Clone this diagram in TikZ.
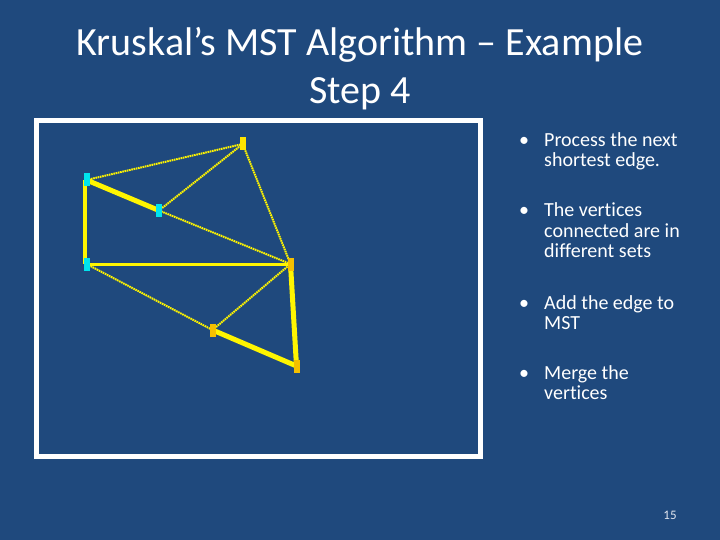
\documentclass[tikz,border=0pt]{standalone}
\usepackage{fontspec}
\setmainfont{Carlito}[Ligatures=NoCommon]
\definecolor{bg}{RGB}{31,73,125}
\definecolor{edgey}{RGB}{255,245,0}
\definecolor{vcyan}{RGB}{0,228,238}
\definecolor{vyel}{RGB}{255,228,0}
\definecolor{vorg}{RGB}{245,192,0}
\definecolor{pgnum}{RGB}{225,230,240}
\begin{document}
\begin{tikzpicture}[x=1pt,y=-1pt,
  vtx/.style={rectangle,inner sep=0pt,minimum width=6pt,minimum height=13pt},
  cyanv/.style={vtx,fill=vcyan},
  yelv/.style={vtx,fill=vyel},
  orgv/.style={vtx,fill=vorg},
  candidate/.style={draw=edgey,line width=2pt,dash pattern=on 1.6pt off 0.7pt},
  chosen/.style={draw=edgey,line width=5pt},
  medium/.style={draw=edgey,line width=3pt},
  bullettext/.style={anchor=base west,inner sep=0pt,text=white,font=\fontsize{20}{24}\selectfont},
  titletext/.style={anchor=base,inner sep=0pt,text=white,font=\fontsize{40}{48}\selectfont}]
\fill[bg] (0,0) rectangle (720,540);
\useasboundingbox (0,0) rectangle (720,540);
% title
\node[titletext] (t1) at (360,56) {Kruskal’s MST Algorithm – Example};
\node[titletext] (t2) at (360,104) {Step 4};
% frame
\draw[white,line width=5pt] (36.5,120.8) rectangle (480.5,456.5);
% vertices
\coordinate (A) at (242.7,144);
\coordinate (B) at (86.5,180);
\coordinate (C) at (159,210.5);
\coordinate (D) at (86.5,264);
\coordinate (E) at (290.5,264);
\coordinate (F) at (212.5,330);
\coordinate (G) at (296.5,366);
% candidate edges
\draw[candidate] (A) -- (B);
\draw[candidate] (A) -- (C);
\draw[candidate] (A) -- (E);
\draw[candidate] (C) -- (E);
\draw[candidate] (D) -- (F);
\draw[candidate] (F) -- (E);
% chosen edges
\draw[chosen] (B) -- (C);
\draw[chosen] (E) -- (G);
\draw[chosen] (F) -- (G);
\draw[draw=edgey,line width=4pt] ([xshift=-2pt]B) -- ([xshift=-2pt]D);
\draw[medium] (D) -- (E);
% vertex nodes
\node[yelv] (nA) at (A) {};
\node[cyanv] (nB) at (B) {};
\node[cyanv] (nC) at (C) {};
\node[cyanv] (nD) at (D) {};
\node[orgv] (nE) at (E) {};
\node[orgv] (nF) at (F) {};
\node[orgv] (nG) at (G) {};
% bullets
\node[bullettext] (b1) at (519,147) {•};
\node[bullettext] (l11) at (544,147) {Process the next};
\node[bullettext] (l12) at (544,167) {shortest edge.};
\node[bullettext] (b2) at (519,217) {•};
\node[bullettext] (l21) at (544,217) {The vertices};
\node[bullettext] (l22) at (544,237) {connected are in};
\node[bullettext] (l23) at (544,257) {different sets};
\node[bullettext] (b3) at (519,309) {•};
\node[bullettext] (l31) at (544,309) {Add the edge to};
\node[bullettext] (l32) at (544,329) {MST};
\node[bullettext] (b4) at (519,379) {•};
\node[bullettext] (l41) at (544,379) {Merge the};
\node[bullettext] (l42) at (544,399) {vertices};
% page number
\node[anchor=base,inner sep=0pt,text=pgnum,font=\fontsize{13}{15}\selectfont] (pg) at (670,519) {15};
\end{tikzpicture}
\end{document}
